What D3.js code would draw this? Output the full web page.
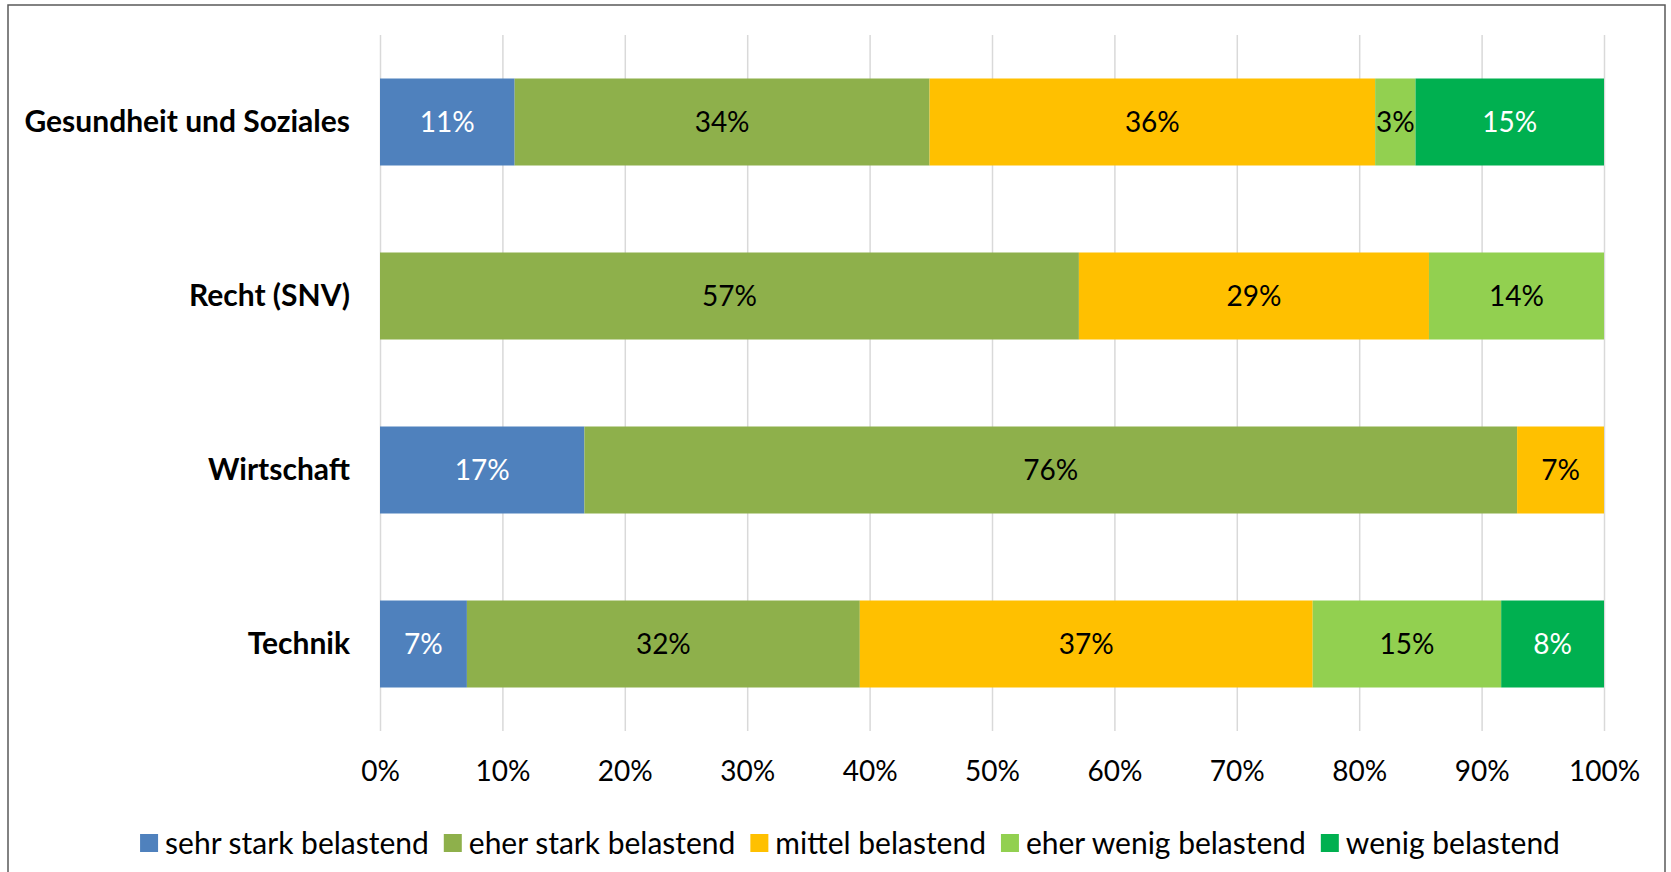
<!DOCTYPE html>
<html>
<head>
<meta charset="utf-8">
<script src="https://cdn.jsdelivr.net/npm/d3@7"></script>
<style>
  body { margin: 0; background: #fff; }
  svg { display: block; font-family: Lato, "Noto Sans", sans-serif; }
</style>
</head>
<body>
<script>
const width = 1671;
const height = 872;

const categories = ["Gesundheit und Soziales", "Recht (SNV)", "Wirtschaft", "Technik"];
const seriesNames = ["sehr stark belastend", "eher stark belastend", "mittel belastend", "eher wenig belastend", "wenig belastend"];
const sehrStark = [11.0, 0, 16.7, 7.1];
const eherStark = [33.9, 57.1, 76.2, 32.1];
const mittel = [36.4, 28.6, 7.1, 37.0];
const eherWenig = [3.3, 14.3, 0, 15.4];
const wenig = [15.4, 0, 0, 8.4];
const tickValues = [0, 10, 20, 30, 40, 50, 60, 70, 80, 90, 100];

const colors = ["#4F81BD", "#8EB04B", "#FFC000", "#92D050", "#00B050"];
const labelColors = ["#fff", "#000", "#000", "#000", "#fff"];

const rows = categories.map((c, i) => ({
  cat: c,
  s0: sehrStark[i], s1: eherStark[i], s2: mittel[i], s3: eherWenig[i], s4: wenig[i]
}));
const stack = d3.stack().keys(["s0", "s1", "s2", "s3", "s4"])(rows);

const svg = d3.select("body").append("svg")
  .attr("width", width)
  .attr("height", height);

svg.append("rect")
  .attr("x", 8).attr("y", 5)
  .attr("width", 1657).attr("height", 880)
  .attr("fill", "#fff")
  .attr("stroke", "#595959")
  .attr("stroke-width", 1.5);

const x = d3.scaleLinear().domain([0, 100]).range([380, 1604]);
const y = d3.scaleBand().domain(categories).range([35, 731])
  .paddingInner(0.5).paddingOuter(0.25);

// gridlines + x tick labels
const xAxis = svg.append("g")
  .attr("transform", "translate(0,731)")
  .call(d3.axisBottom(x).tickValues(tickValues).tickSize(-696).tickFormat(d => d + "%"));
xAxis.select(".domain").remove();
xAxis.selectAll(".tick line").attr("stroke", "#D9D9D9").attr("stroke-width", 1.5);
xAxis.selectAll(".tick text")
  .attr("y", 40).attr("dy", "0.35em")
  .attr("font-size", 28).attr("fill", "#000")
  .attr("font-family", "Lato");

// category labels
const yAxis = svg.append("g")
  .attr("transform", "translate(380,0)")
  .call(d3.axisLeft(y).tickSize(0).tickPadding(30));
yAxis.select(".domain").remove();
yAxis.selectAll(".tick text")
  .attr("font-size", 30).attr("font-weight", "bold").attr("fill", "#000")
  .attr("font-family", "Lato");

// bars
const layers = svg.selectAll("g.layer").data(stack).join("g")
  .attr("class", "layer")
  .attr("fill", (d, i) => colors[i]);

layers.selectAll("rect").data(d => d).join("rect")
  .attr("x", d => x(d[0]))
  .attr("y", d => y(d.data.cat))
  .attr("width", d => x(d[1]) - x(d[0]))
  .attr("height", y.bandwidth());

layers.each(function(layer, i) {
  d3.select(this).selectAll("text")
    .data(layer.filter(d => d[1] - d[0] > 0))
    .join("text")
    .attr("x", d => (x(d[0]) + x(d[1])) / 2)
    .attr("y", d => y(d.data.cat) + y.bandwidth() / 2)
    .attr("dy", "0.35em")
    .attr("text-anchor", "middle")
    .attr("font-size", 28)
    .attr("fill", labelColors[i])
    .text(d => Math.round(d[1] - d[0]) + "%");
});

// legend
const legend = svg.append("g").attr("transform", "translate(0,843)");
const items = legend.selectAll("g").data(seriesNames).join("g");
items.append("rect")
  .attr("width", 18).attr("height", 18).attr("y", -9)
  .attr("fill", (d, i) => colors[i]);
items.append("text")
  .attr("x", 25).attr("dy", "0.35em")
  .attr("font-size", 30).attr("fill", "#000")
  .text(d => d);

let offset = 0;
const widths = [];
items.each(function() {
  const w = 25 + d3.select(this).select("text").node().getComputedTextLength();
  widths.push(w);
});
const gap = 15;
const total = d3.sum(widths) + gap * (widths.length - 1);
offset = 850 - total / 2;
items.attr("transform", (d, i) => {
  const t = `translate(${offset},0)`;
  offset += widths[i] + gap;
  return t;
});
</script>
</body>
</html>
